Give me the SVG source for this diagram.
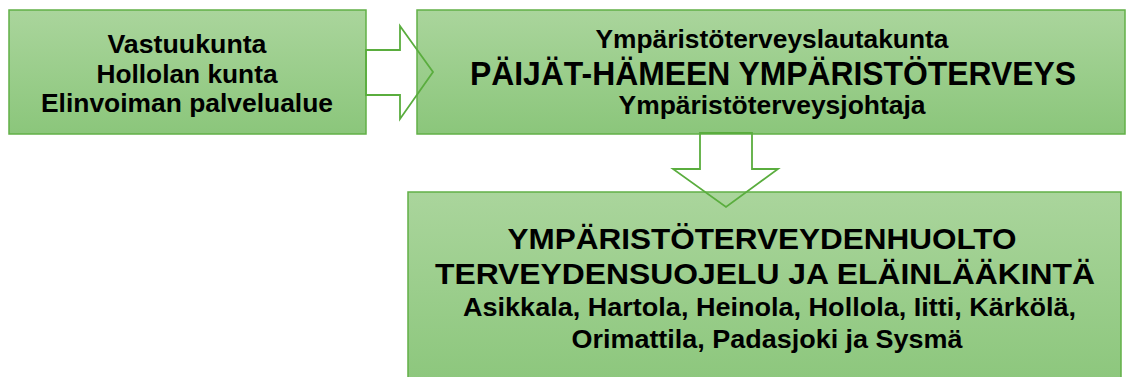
<svg xmlns="http://www.w3.org/2000/svg" width="1126" height="377" viewBox="0 0 1126 377">
  <defs>
    <linearGradient id="g" x1="0" y1="0" x2="0" y2="1">
      <stop offset="0" stop-color="#aad59c"/>
      <stop offset="1" stop-color="#8bc67b"/>
    </linearGradient>
    <style>
      .box { fill: url(#g); stroke: #62b047; stroke-width: 1.5; }
      .arrow { fill: none; stroke: #5aad3e; stroke-width: 1.8; stroke-linejoin: miter; }
      text { font-family: "Liberation Sans", Arial, sans-serif; font-weight: bold; fill: #000; text-anchor: middle; }
      .t24 { font-size: 25px; }
      .t26 { font-size: 26px; }
      .t32 { font-size: 33px; }
      .t29 { font-size: 29.5px; }
      .t245 { font-size: 25px; }
    </style>
  </defs>
  <rect width="1126" height="377" fill="#ffffff"/>

  <g id="node-vastuukunta">
    <rect class="box" x="9" y="10" width="357" height="124"/>
    <text class="t26" x="187" y="53" textLength="159" lengthAdjust="spacingAndGlyphs">Vastuukunta</text>
    <text class="t26" x="187" y="83" textLength="181" lengthAdjust="spacingAndGlyphs">Hollolan kunta</text>
    <text class="t26" x="187" y="112" textLength="292" lengthAdjust="spacingAndGlyphs">Elinvoiman palvelualue</text>
  </g>

  <g id="node-ymparistoterveys">
    <rect class="box" x="417" y="10" width="708" height="124"/>
    <text class="t24" x="772" y="47.5" textLength="353" lengthAdjust="spacingAndGlyphs">Ympäristöterveyslautakunta</text>
    <text class="t32" x="773" y="84.5" textLength="606" lengthAdjust="spacingAndGlyphs">PÄIJÄT-HÄMEEN YMPÄRISTÖTERVEYS</text>
    <text class="t24" x="772" y="114" textLength="307" lengthAdjust="spacingAndGlyphs">Ympäristöterveysjohtaja</text>
  </g>

  <g id="node-ymparistoterveydenhuolto">
    <rect class="box" x="408" y="192" width="713" height="200"/>
    <text class="t29" x="762" y="248.5" textLength="509" lengthAdjust="spacingAndGlyphs">YMPÄRISTÖTERVEYDENHUOLTO</text>
    <text class="t29" x="765" y="284" textLength="660" lengthAdjust="spacingAndGlyphs">TERVEYDENSUOJELU JA ELÄINLÄÄKINTÄ</text>
    <text class="t245" x="769.5" y="316" textLength="613" lengthAdjust="spacingAndGlyphs">Asikkala, Hartola, Heinola, Hollola, Iitti, Kärkölä,</text>
    <text class="t245" x="767" y="348" textLength="391" lengthAdjust="spacingAndGlyphs">Orimattila, Padasjoki ja Sysmä</text>
  </g>

  <g id="connectors">
    <polygon class="arrow" points="366,50 400,50 400,26 433,72 400,119 400,95 366,95"/>
    <polygon class="arrow" points="700,133 752,133 752,169 778,169 726,207 673,169 700,169"/>
  </g>
</svg>
